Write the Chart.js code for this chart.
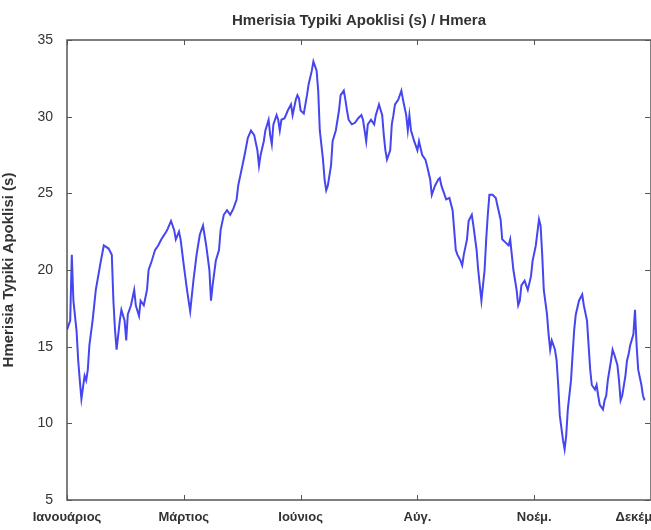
<!DOCTYPE html>
<html>
<head>
<meta charset="utf-8">
<script src="https://cdn.jsdelivr.net/npm/chart.js@4.4.1/dist/chart.umd.min.js"></script>
<style>
  body { margin: 0; background: #fff; }
  canvas { display: block; }
</style>
</head>
<body>
<canvas id="stdchart" width="651" height="530"></canvas>
<script>
// day of year for each reading
var days = [0, 2, 3, 4, 6, 7, 8, 9, 11, 12, 13, 14, 16, 18, 21, 23, 26, 28, 29, 30,
  31, 33, 34, 36, 37, 38, 40, 42, 43, 45, 46, 48, 50, 51, 53, 55, 57, 59, 62, 63,
  65, 67, 68, 70, 71, 73, 75, 77, 79, 81, 83, 85, 87, 89, 90, 91, 93, 95, 96, 98,
  100, 102, 104, 106, 107, 109, 111, 113, 115, 117, 119, 120, 121, 123, 124, 126, 127, 128, 129, 131,
  132, 133, 134, 136, 138, 140, 141, 143, 144, 145, 146, 148, 150, 151, 153, 154, 156, 157, 158, 160,
  161, 162, 163, 165, 166, 168, 170, 171, 173, 174, 175, 176, 178, 180, 182, 184, 185, 187, 188, 190,
  192, 193, 195, 197, 198, 199, 200, 202, 203, 204, 205, 207, 209, 210, 212, 213, 214, 215, 217, 219,
  220, 222, 224, 225, 227, 228, 229, 230, 232, 233, 234, 236, 237, 239, 241, 242, 243, 244, 246, 247,
  248, 250, 251, 253, 254, 256, 257, 258, 259, 261, 262, 263, 264, 266, 268, 269, 271, 272, 274, 276,
  277, 278, 279, 281, 282, 283, 284, 286, 287, 288, 290, 291, 293, 295, 296, 297, 298, 300, 301, 302,
  303, 305, 306, 307, 308, 310, 311, 312, 313, 315, 316, 317, 318, 320, 322, 323, 325, 326, 327, 328,
  330, 331, 332, 333, 335, 336, 337, 338, 340, 341, 342, 344, 345, 346, 347, 349, 350, 351, 352, 354,
  355, 356, 357, 359, 360, 361];

// daily standard deviation (s)
var stdValues = [16.1, 16.7, 21.0, 18.0, 16.0, 14.1, 12.8, 11.6, 13.1, 12.8, 13.5, 15.1, 16.7, 18.7, 20.5, 21.6, 21.4, 21.0, 18.0, 16.1,
  14.8, 16.7, 17.4, 16.7, 15.4, 17.1, 17.7, 18.7, 17.7, 17.0, 18.0, 17.7, 18.7, 20.0, 20.6, 21.3, 21.6, 22.0, 22.5, 22.7,
  23.2, 22.6, 22.0, 22.5, 22.0, 20.3, 18.7, 17.3, 19.3, 21.0, 22.3, 22.9, 21.6, 20.0, 18.0, 19.0, 20.6, 21.3, 22.6, 23.6,
  23.9, 23.6, 24.0, 24.6, 25.5, 26.5, 27.5, 28.6, 29.1, 28.8, 27.8, 26.8, 27.5, 28.4, 29.1, 29.8, 28.8, 28.2, 29.5, 30.1,
  29.8, 29.1, 29.8, 29.9, 30.4, 30.8, 30.1, 31.1, 31.4, 31.2, 30.4, 30.2, 31.4, 32.1, 33.0, 33.6, 33.0, 31.7, 29.1, 27.2,
  25.9, 25.2, 25.5, 26.8, 28.4, 29.1, 30.4, 31.4, 31.7, 31.1, 30.4, 29.8, 29.5, 29.6, 29.9, 30.1, 29.8, 28.4, 29.5, 29.8,
  29.5, 30.1, 30.8, 30.1, 28.8, 27.8, 27.2, 27.8, 29.5, 30.1, 30.8, 31.1, 31.7, 31.1, 30.1, 29.1, 30.1, 29.1, 28.4, 27.8,
  28.4, 27.5, 27.2, 26.8, 25.9, 24.9, 25.2, 25.5, 25.9, 26.0, 25.5, 24.9, 24.6, 24.7, 23.9, 22.6, 21.3, 21.0, 20.6, 20.3,
  21.0, 22.0, 23.2, 23.6, 22.9, 21.3, 20.0, 19.0, 18.0, 20.0, 22.0, 23.6, 24.9, 24.9, 24.7, 24.2, 23.3, 22.0, 21.8, 21.6,
  22.0, 21.0, 20.0, 18.7, 17.7, 18.0, 19.0, 19.3, 19.0, 18.7, 19.6, 20.6, 21.6, 23.3, 22.9, 21.0, 18.7, 17.1, 15.8, 14.8,
  15.4, 14.8, 14.1, 12.5, 10.5, 8.9, 8.3, 9.2, 10.9, 12.8, 14.5, 16.1, 17.1, 18.0, 18.4, 17.7, 16.7, 15.1, 13.5, 12.5,
  12.2, 12.5, 11.8, 11.2, 10.9, 11.5, 11.8, 12.8, 14.1, 14.8, 14.5, 13.8, 12.8, 11.5, 11.8, 13.1, 14.1, 14.5, 15.1, 15.8,
  17.4, 15.1, 13.5, 12.5, 11.8, 11.5];

var tickDays = [0, 73, 146, 219, 292, 365];
var monthLabels = ['Ιανουάριος', 'Μάρτιος', 'Ιούνιος', 'Αύγ.', 'Νοέμ.', 'Δεκέμβριος'];
var yTicks = [5, 10, 15, 20, 25, 30, 35];

var points = days.map(function (d, i) { return { x: d, y: stdValues[i] }; });

// matlab style box with ticks pointing inwards
var boxPlugin = {
  id: 'boxPlugin',
  afterDraw: function (chart) {
    var ctx = chart.ctx;
    var a = chart.chartArea;
    var xs = chart.scales.x, ys = chart.scales.y;
    ctx.save();
    ctx.strokeStyle = '#555';
    ctx.lineWidth = 1.5;
    ctx.strokeRect(a.left, a.top, a.right - a.left, a.bottom - a.top);
    ctx.lineWidth = 1;
    ctx.beginPath();
    yTicks.forEach(function (v) {
      var py = Math.round(ys.getPixelForValue(v)) + 0.5;
      ctx.moveTo(a.left, py); ctx.lineTo(a.left + 5, py);
      ctx.moveTo(a.right - 1, py); ctx.lineTo(a.right - 6, py);
    });
    tickDays.forEach(function (d) {
      var px = Math.round(xs.getPixelForValue(d)) + 0.5;
      ctx.moveTo(px, a.bottom); ctx.lineTo(px, a.bottom - 5);
      ctx.moveTo(px, a.top); ctx.lineTo(px, a.top + 5);
    });
    ctx.stroke();
    ctx.restore();
  }
};

var chart1 = document.getElementById('stdchart');

var myChart1 = new Chart(chart1, {
  type: 'line',
  data: {
    datasets: [{
      data: points,
      borderColor: 'rgb(70, 70, 240)',
      borderWidth: 2,
      pointRadius: 0,
      tension: 0,
      fill: false
    }]
  },
  options: {
    responsive: false,
    animation: false,
    layout: { padding: { left: 0, right: 0, top: 0, bottom: 0 } },
    plugins: {
      legend: { display: false },
      tooltip: { enabled: false },
      title: {
        display: true,
        fullSize: false,
        text: 'Hmerisia Typiki Apoklisi (s) / Hmera',
        color: '#333',
        font: { family: 'Liberation Sans', size: 15, weight: 'bold' },
        padding: { top: 12, bottom: 10 }
      }
    },
    scales: {
      x: {
        type: 'linear',
        min: 0,
        max: 365,
        grid: { display: false, drawTicks: false },
        border: { display: false },
        afterBuildTicks: function (scale) {
          scale.ticks = tickDays.map(function (d) { return { value: d }; });
        },
        afterFit: function (scale) {
          scale.height = 30;
          scale.paddingLeft = 0;
          scale.paddingRight = 0;
        },
        ticks: {
          autoSkip: false,
          maxRotation: 0,
          padding: 10,
          color: '#333',
          font: { family: 'Liberation Sans', size: 13, weight: 'bold' },
          callback: function (value) {
            var i = tickDays.indexOf(value);
            return i >= 0 ? monthLabels[i] : '';
          }
        }
      },
      y: {
        min: 5,
        max: 35,
        grid: { display: false, drawTicks: false },
        border: { display: false },
        afterBuildTicks: function (scale) {
          scale.ticks = yTicks.map(function (v) { return { value: v }; });
        },
        afterFit: function (scale) {
          scale.width = 67;
        },
        ticks: {
          padding: 14,
          color: '#333',
          font: { family: 'Liberation Sans', size: 14 }
        },
        title: {
          display: true,
          text: 'Hmerisia Typiki Apoklisi (s)',
          color: '#333',
          font: { family: 'Liberation Sans', size: 15, weight: 'bold' },
          padding: { top: 0, bottom: 2 }
        }
      }
    }
  },
  plugins: [boxPlugin]
});
</script>
</body>
</html>
